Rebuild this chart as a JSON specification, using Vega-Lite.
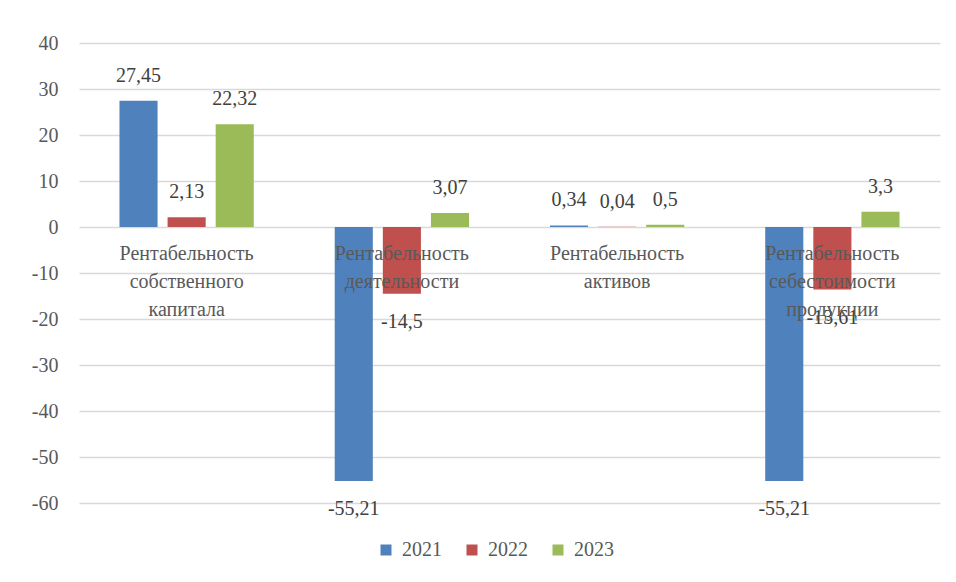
{
  "$schema": "https://vega.github.io/schema/vega-lite/v6.json",
  "autosize": {"type": "none"},
  "width": 861,
  "height": 460,
  "padding": {"left": 79, "top": 43, "right": 16, "bottom": 79},
  "background": "white",
  "data": {
    "values": [
      {"category": "Рентабельность собственного капитала", "year": "2021", "value": 27.45},
      {"category": "Рентабельность собственного капитала", "year": "2022", "value": 2.13},
      {"category": "Рентабельность собственного капитала", "year": "2023", "value": 22.32},
      {"category": "Рентабельность деятельности", "year": "2021", "value": -55.21},
      {"category": "Рентабельность деятельности", "year": "2022", "value": -14.5},
      {"category": "Рентабельность деятельности", "year": "2023", "value": 3.07},
      {"category": "Рентабельность активов", "year": "2021", "value": 0.34},
      {"category": "Рентабельность активов", "year": "2022", "value": 0.04},
      {"category": "Рентабельность активов", "year": "2023", "value": 0.5},
      {"category": "Рентабельность себестоимости продукции", "year": "2021", "value": -55.21},
      {"category": "Рентабельность себестоимости продукции", "year": "2022", "value": -13.61},
      {"category": "Рентабельность себестоимости продукции", "year": "2023", "value": 3.3}
    ]
  },
  "encoding": {
    "x": {
      "field": "category",
      "type": "nominal",
      "sort": null,
      "scale": {"paddingInner": 0.376, "paddingOuter": 0.188},
      "axis": null
    }
  },
  "layer": [
    {
      "mark": {"type": "bar"},
      "encoding": {
        "xOffset": {"field": "year", "type": "nominal", "scale": {"paddingInner": 0.208, "paddingOuter": 0}},
        "y": {
          "field": "value",
          "type": "quantitative",
          "scale": {"domain": [-60, 40], "nice": false, "zero": true},
          "axis": {
            "values": [-60, -50, -40, -30, -20, -10, 0, 10, 20, 30, 40],
            "title": null,
            "domain": false,
            "ticks": false,
            "grid": true,
            "gridColor": "#D9D9D9",
            "gridWidth": 1.3,
            "labelFont": "'Liberation Serif', 'DejaVu Serif', serif",
            "labelFontSize": 20,
            "labelColor": "#595959",
            "labelPadding": 21
          }
        },
        "color": {
          "field": "year",
          "type": "nominal",
          "scale": {"domain": ["2021", "2022", "2023"], "range": ["#4F81BD", "#C0504D", "#9BBB59"]},
          "legend": {
            "title": null,
            "orient": "none",
            "direction": "horizontal",
            "legendX": 297,
            "legendY": 497,
            "symbolType": "square",
            "symbolSize": 121,
            "symbolStrokeWidth": 0,
            "symbolOpacity": 1,
            "labelFont": "'Liberation Serif', 'DejaVu Serif', serif",
            "labelFontSize": 20,
            "labelColor": "#595959",
            "labelOffset": 6,
            "columnPadding": 20,
            "padding": 0
          }
        }
      }
    },
    {
      "transform": [{"filter": "datum.value >= 0"}],
      "mark": {"type": "text", "baseline": "middle", "dy": -25, "font": "'Liberation Serif', 'DejaVu Serif', serif", "fontSize": 20, "color": "#404040"},
      "encoding": {
        "xOffset": {"field": "year", "type": "nominal", "scale": {"paddingInner": 0.208, "paddingOuter": 0}},
        "y": {"field": "value", "type": "quantitative"},
        "text": {"field": "value", "type": "quantitative", "format": ".2~f"}
      }
    },
    {
      "transform": [{"filter": "datum.value < 0"}],
      "mark": {"type": "text", "baseline": "middle", "dy": 28, "font": "'Liberation Serif', 'DejaVu Serif', serif", "fontSize": 20, "color": "#404040"},
      "encoding": {
        "xOffset": {"field": "year", "type": "nominal", "scale": {"paddingInner": 0.208, "paddingOuter": 0}},
        "y": {"field": "value", "type": "quantitative"},
        "text": {"field": "value", "type": "quantitative", "format": ".2~f"}
      }
    },
    {
      "transform": [{"filter": "datum.year == '2021'"}],
      "mark": {"type": "text", "baseline": "top", "dy": 17, "lineBreak": " ", "lineHeight": 28, "font": "'Liberation Serif', 'DejaVu Serif', serif", "fontSize": 20, "color": "#595959"},
      "encoding": {
        "y": {"datum": 0, "type": "quantitative"},
        "text": {"field": "category", "type": "nominal"}
      }
    }
  ],
  "config": {
    "view": {"stroke": null},
    "locale": {"number": {"decimal": ",", "thousands": " ", "grouping": [3], "currency": ["", ""], "minus": "-"}}
  }
}
